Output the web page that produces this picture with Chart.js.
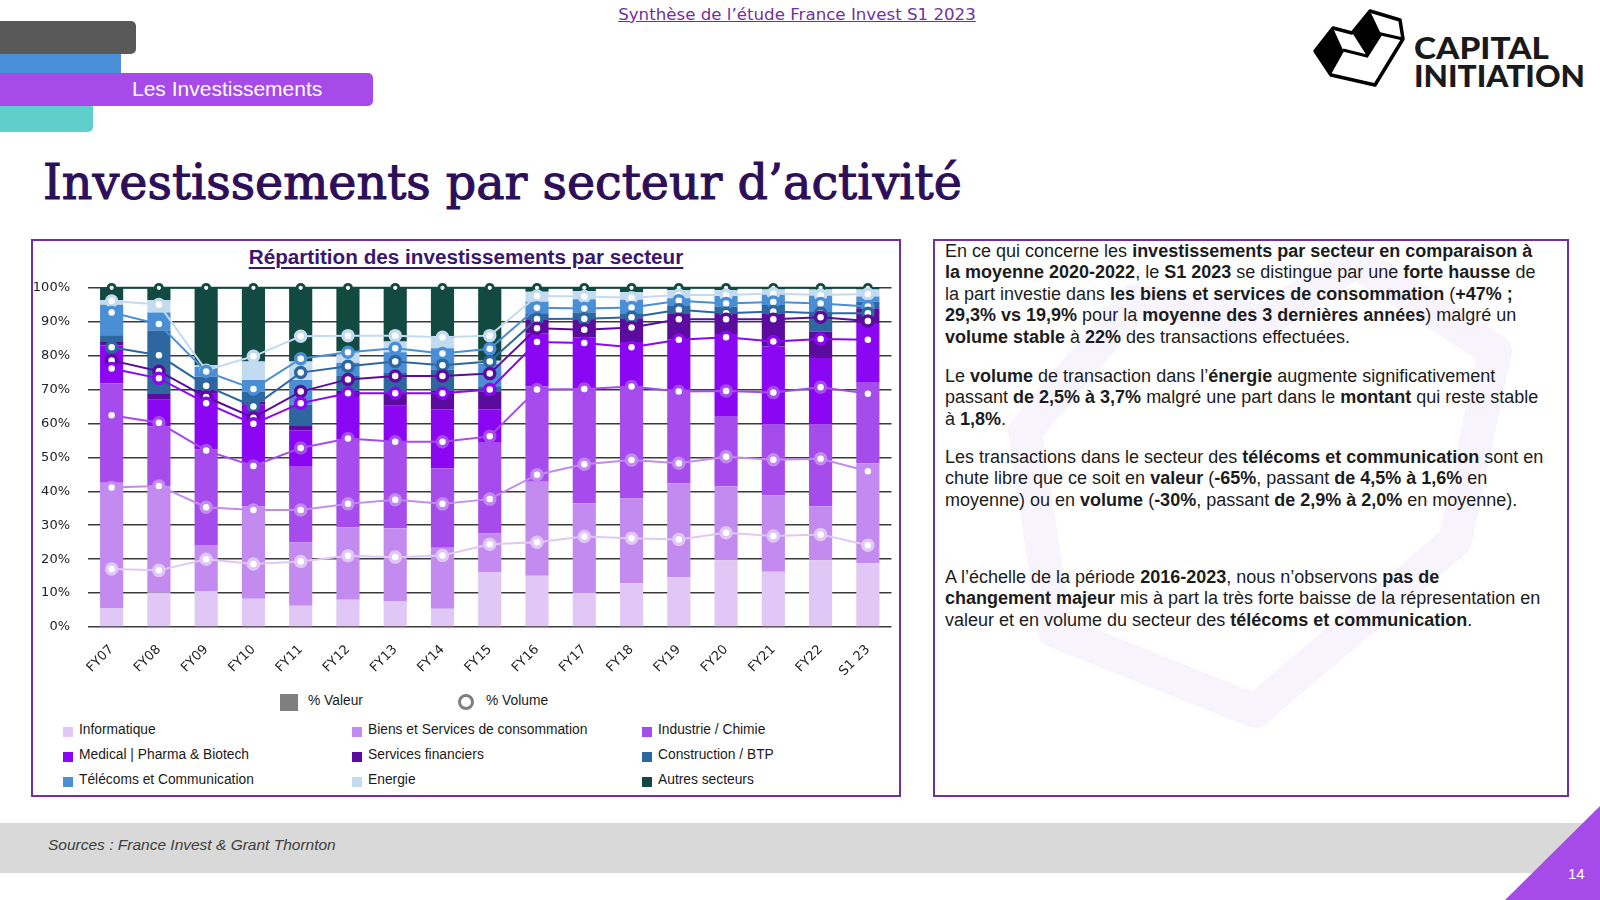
<!DOCTYPE html>
<html lang="fr">
<head>
<meta charset="utf-8">
<title>Investissements par secteur d’activité</title>
<script src="https://cdn.jsdelivr.net/npm/chart.js@4.4.0/dist/chart.umd.min.js"></script>
<style>
  html, body { margin: 0; padding: 0; background: #fff; }
  #slide { position: relative; width: 1600px; height: 900px; overflow: hidden;
           font-family: "Liberation Sans", Arial, sans-serif; color: #1a1a1a; }
  .abs { position: absolute; }
  .onglet { position: absolute; left: 0; }
  .boite { position: absolute; border: 2.5px solid #7030a0; box-sizing: border-box; }
  .leg { position: absolute; font-size: 13.8px; white-space: nowrap; line-height: 16px; }
  .leg i { position: absolute; width: 10px; height: 10px; left: -16px; top: 5px; }
  .txt { position: absolute; left: 945px; font-size: 18px; line-height: 21.4px; white-space: nowrap; color: #1c1c1c; }
  .txt b { font-weight: bold; }
</style>
</head>
<body>
<div id="slide">

  <!-- en-tete -->
  <div id="entete" class="abs" style="left:797px; top:5px; transform:translateX(-50%); font-family:'DejaVu Sans'; font-size:16px; color:#7030a0; text-decoration:underline; white-space:nowrap;">Synthèse de l’étude France Invest S1 2023</div>

  <div class="onglet" style="top:21px; width:136px; height:33px; background:#595959; border-radius:0 5px 5px 0;"></div>
  <div class="onglet" style="top:54px; width:121px; height:19px; background:#4a90d9;"></div>
  <div class="onglet" style="top:106px; width:93px; height:26px; background:#5ecfca; border-radius:0 0 5px 0;"></div>
  <div class="onglet" style="top:73px; width:373px; height:33px; background:#a64bea; border-radius:0 5px 5px 0;">
    <span class="abs" style="left:132px; top:4px; color:#fff; font-size:21px;">Les Investissements</span>
  </div>

  <!-- logo -->
  <svg class="abs" style="left:1300px; top:0px;" width="120" height="95" viewBox="1300 0 120 95">
    <polygon points="1315,51 1333,28 1352,33 1370,11 1400,20 1403,39 1375,85 1331,75" fill="#fff" stroke="#000" stroke-width="3.5" stroke-linejoin="round"/>
    <polygon points="1315,51 1333,28 1343,50 1330,73" fill="#000"/>
    <polygon points="1353,34 1370,11 1381,34 1367,56" fill="#000"/>
    <polyline points="1343,50 1367,56 1381,34 1403,39" fill="none" stroke="#000" stroke-width="3"/>
    <polyline points="1330,73 1343,50" fill="none" stroke="#000" stroke-width="3"/>
  </svg>
  <div id="logo1" class="abs" style="left:1414px; top:30px; font-family:Lato; font-weight:900; font-size:30px; line-height:34px; white-space:nowrap; transform-origin:left center;">CAPITAL</div>
  <div id="logo2" class="abs" style="left:1414px; top:58px; font-family:Lato; font-weight:900; font-size:30px; line-height:34px; white-space:nowrap; transform-origin:left center;">INITIATION</div>

  <!-- titre -->
  <div id="titre" class="abs" style="left:43px; top:150px; font-family:'DejaVu Serif'; font-size:48px; line-height:66px; color:#2d0f59; -webkit-text-stroke:1.1px #2d0f59; white-space:nowrap;">Investissements par secteur d’activité</div>

  <!-- boite du graphique -->
  <div class="boite" style="left:31px; top:239px; width:870px; height:558px;"></div>
  <div id="titreGraphique" class="abs" style="left:466px; top:245px; transform:translateX(-50%); font-size:20.7px; font-weight:bold; color:#3b1670; text-decoration:underline; text-decoration-thickness:1.5px; text-underline-offset:3px; white-space:nowrap;">Répartition des investissements par secteur</div>

  <div class="abs" style="left:31px; top:262px; width:869px; height:420px;">
    <canvas id="graphique" width="869" height="420"></canvas>
  </div>

  <!-- legende -->
  <div class="abs" style="left:280px; top:694px; width:18px; height:17px; background:#7f7f7f;"></div>
  <div class="leg" style="left:308px; top:693px;">% Valeur</div>
  <div class="abs" style="left:458px; top:694px; width:10px; height:10px; border:3.5px solid #7f7f7f; border-radius:50%;"></div>
  <div class="leg" style="left:486px; top:693px;">% Volume</div>
  <div id="legendeSecteurs"></div>

  <!-- boite de texte -->
  <div class="boite" style="left:933px; top:239px; width:636px; height:558px;"></div>
  <svg class="abs" style="left:935px; top:241px;" width="632" height="554">
    <polygon points="90,190 200,60 330,80 420,20 560,110 520,300 320,470 120,390" fill="none" stroke="#f8f4fd" stroke-width="34" stroke-linejoin="round"/>
  </svg>

  <div class="txt" style="top:241px;">
    En ce qui concerne les <b>investissements par secteur en comparaison à</b><br>
    <b>la moyenne 2020-2022</b>, le <b>S1 2023</b> se distingue par une <b>forte hausse</b> de<br>
    la part investie dans <b>les biens et services de consommation</b> (<b>+47% ;</b><br>
    <b>29,3% vs 19,9%</b> pour la <b>moyenne des 3 dernières années</b>) malgré un<br>
    <b>volume stable</b> à <b>22%</b> des transactions effectuées.
  </div>
  <div class="txt" style="top:366px;">
    Le <b>volume</b> de transaction dans l’<b>énergie</b> augmente significativement<br>
    passant <b>de 2,5% à 3,7%</b> malgré une part dans le <b>montant</b> qui reste stable<br>
    à <b>1,8%</b>.
  </div>
  <div class="txt" style="top:447px;">
    Les transactions dans le secteur des <b>télécoms et communication</b> sont en<br>
    chute libre que ce soit en <b>valeur</b> (<b>-65%</b>, passant <b>de 4,5% à 1,6%</b> en<br>
    moyenne) ou en <b>volume</b> (<b>-30%</b>, passant <b>de 2,9% à 2,0%</b> en moyenne).
  </div>
  <div class="txt" style="top:567px;">
    A l’échelle de la période <b>2016-2023</b>, nous n’observons <b>pas de</b><br>
    <b>changement majeur</b> mis à part la très forte baisse de la répresentation en<br>
    valeur et en volume du secteur des <b>télécoms et communication</b>.
  </div>

  <!-- pied de page -->
  <div class="abs" style="left:0; top:823px; width:1600px; height:50px; background:#d9d9d9;"></div>
  <div class="abs" style="left:48px; top:836px; font-size:15.5px; font-style:italic; color:#404040;">Sources : France Invest &amp; Grant Thornton</div>
  <svg class="abs" style="left:1500px; top:800px;" width="100" height="100">
    <polygon points="5,100 100,6 100,100" fill="#a64bea"/>
  </svg>
  <div class="abs" style="left:1568px; top:865px; font-size:15px; color:#fff;">14</div>
</div>

<script>
// Années
var annees = ["FY07", "FY08", "FY09", "FY10", "FY11", "FY12", "FY13", "FY14", "FY15",
              "FY16", "FY17", "FY18", "FY19", "FY20", "FY21", "FY22", "S1 23"];

var secteurs = ["Informatique", "Biens et Services de consommation", "Industrie / Chimie",
                "Medical | Pharma & Biotech", "Services financiers", "Construction / BTP",
                "Télécoms et Communication", "Energie", "Autres secteurs"];

var couleurs = ["#e0c7f5", "#c38af0", "#a64cec", "#8b06f2", "#5b0c9e",
                "#2e679f", "#4a8fd6", "#c3dbf0", "#124a42"];

// % Valeur (barres empilées)
var valeurInformatique = [5.6, 10.2, 10.5, 8.3, 6.3, 8.0, 7.5, 5.4, 16.2, 15.1, 10.0, 12.9, 14.7, 19.7, 16.3, 19.7, 18.8];
var valeurBiens        = [36.9, 31.3, 13.7, 27.2, 18.6, 21.4, 21.6, 18.0, 11.4, 27.7, 26.5, 25.0, 27.7, 21.8, 22.5, 15.9, 29.5];
var valeurIndustrie    = [29.3, 17.7, 28.2, 12.7, 22.6, 25.9, 25.7, 23.4, 26.7, 28.2, 33.9, 33.0, 27.6, 20.7, 21.0, 24.2, 23.7];
var valeurMedical      = [11.2, 7.8, 16.6, 17.3, 10.5, 12.8, 10.4, 17.4, 9.9, 15.6, 15.0, 13.1, 14.7, 24.2, 22.9, 19.5, 17.6];
var valeurFinance      = [1.0, 1.9, 0.9, 1.0, 1.5, 1.5, 3.9, 5.4, 5.3, 3.9, 5.9, 7.0, 7.6, 6.3, 9.6, 7.8, 4.4];
var valeurConstruction = [2.0, 18.5, 3.9, 2.9, 6.0, 4.4, 5.8, 6.3, 1.5, 2.0, 1.4, 1.5, 2.3, 1.7, 2.6, 5.8, 1.9];
var valeurTelecoms     = [9.0, 5.3, 2.9, 3.4, 7.3, 3.9, 6.1, 6.3, 6.5, 3.4, 3.9, 4.0, 2.3, 3.2, 3.6, 5.0, 1.5];
var valeurEnergie      = [1.3, 3.6, 0.5, 5.5, 5.5, 3.4, 3.2, 3.0, 1.0, 2.9, 2.4, 2.2, 2.4, 1.7, 1.0, 1.6, 2.1];
var valeurAutres       = [3.7, 3.7, 22.8, 21.7, 21.7, 18.7, 15.8, 14.8, 21.5, 1.2, 1.0, 1.3, 0.7, 0.7, 0.5, 0.5, 0.5];

// % Volume (lignes empilées)
var volumeInformatique = [17.1, 16.7, 20.0, 18.6, 19.3, 21.0, 20.6, 21.1, 24.4, 25.0, 26.7, 26.2, 25.8, 27.8, 26.8, 27.3, 24.1];
var volumeBiens        = [24.0, 24.9, 15.3, 15.9, 15.2, 15.3, 16.9, 15.2, 13.3, 19.9, 21.3, 23.0, 22.5, 22.4, 22.5, 22.3, 21.8];
var volumeIndustrie    = [21.3, 18.6, 16.7, 13.0, 18.3, 19.3, 17.1, 18.3, 18.5, 25.1, 22.2, 21.7, 21.1, 19.4, 19.8, 21.1, 22.9];
var volumeMedical      = [13.8, 13.1, 14.0, 12.4, 13.2, 13.3, 14.3, 14.3, 13.8, 14.0, 13.5, 11.6, 15.3, 15.8, 15.1, 14.2, 15.9];
var volumeFinance      = [2.4, 2.1, 1.8, 1.8, 3.4, 4.1, 5.1, 5.1, 4.7, 4.1, 3.9, 5.8, 6.0, 5.3, 6.5, 6.4, 5.5];
var volumeConstruction = [3.9, 4.7, 3.3, 3.3, 5.6, 3.9, 4.3, 3.2, 3.6, 2.7, 3.3, 3.0, 2.8, 1.8, 2.3, 1.2, 2.3];
var volumeTelecoms     = [10.2, 9.2, 4.2, 5.2, 4.1, 4.1, 3.9, 3.4, 3.7, 3.3, 3.0, 2.9, 2.7, 2.9, 2.8, 2.9, 2.0];
var volumeEnergie      = [3.4, 5.8, 0.4, 9.6, 6.6, 4.9, 3.7, 4.8, 3.9, 3.5, 3.5, 2.9, 1.7, 2.5, 2.5, 2.5, 3.7];
var volumeAutres       = [3.9, 4.9, 24.3, 20.2, 14.3, 14.1, 14.1, 14.6, 14.1, 2.4, 2.6, 2.9, 2.1, 2.1, 1.7, 2.1, 1.8];

var ticksY = [0, 10, 20, 30, 40, 50, 60, 70, 80, 90, 100];

var valeurs = [valeurInformatique, valeurBiens, valeurIndustrie, valeurMedical, valeurFinance,
               valeurConstruction, valeurTelecoms, valeurEnergie, valeurAutres];
var volumes = [volumeInformatique, volumeBiens, volumeIndustrie, volumeMedical, volumeFinance,
               volumeConstruction, volumeTelecoms, volumeEnergie, volumeAutres];

// Barres : % valeur
var datasets = [];
secteurs.forEach(function (nom, i) {
    datasets.push({
        type: "bar",
        label: nom,
        data: valeurs[i],
        backgroundColor: couleurs[i],
        borderWidth: 0,
        stack: "valeur",
        order: 2,
        barPercentage: 0.49,
        categoryPercentage: 1
    });
});

// Lignes : % volume (cumulées par l'empilement)
secteurs.forEach(function (nom, i) {
    var autres = i === secteurs.length - 1;
    datasets.push({
        type: "line",
        label: nom + " (volume)",
        data: volumes[i],
        borderColor: couleurs[i],
        borderWidth: 2,
        pointBackgroundColor: "#ffffff",
        pointBorderColor: couleurs[i],
        pointRadius: autres ? 3.5 : 5,
        pointBorderWidth: autres ? 2.8 : 3.5,
        tension: 0,
        fill: false,
        stack: "volume",
        order: 1,
        clip: false
    });
});

var ctx = document.getElementById("graphique").getContext("2d");
var monGraphique = new Chart(ctx, {
    data: { labels: annees, datasets: datasets },
    options: {
        responsive: false,
        animation: false,
        layout: { padding: { top: 23, right: 2, left: 0, bottom: 0 } },
        plugins: { legend: { display: false }, tooltip: { enabled: false }, title: { display: false } },
        scales: {
            x: {
                stacked: true,
                grid: { display: false },
                border: { display: false },
                ticks: {
                    minRotation: 45,
                    maxRotation: 45,
                    color: "#222",
                    padding: 7,
                    font: { family: "DejaVu Sans", size: 13 }
                },
                afterFit: function (s) { s.height = 55; }
            },
            y: {
                stacked: true,
                min: 0,
                max: 100,
                afterBuildTicks: function (s) {
                    s.ticks = ticksY.map(function (v) { return { value: v }; });
                },
                ticks: {
                    color: "#222",
                    padding: 18,
                    font: { family: "DejaVu Sans", size: 13 },
                    callback: function (value) { return value + "%"; }
                },
                grid: { color: "#3a3a3a", lineWidth: 1.6, drawTicks: false },
                border: { display: false },
                afterFit: function (s) { s.width = 57; }
            }
        }
    }
});

// Légende des secteurs, trois colonnes
var colonnesX = [79, 368, 658];
var lignesY = [722, 747, 772];
var zone = document.getElementById("legendeSecteurs");
secteurs.forEach(function (nom, i) {
    var d = document.createElement("div");
    d.className = "leg";
    d.style.left = colonnesX[i % 3] + "px";
    d.style.top = lignesY[Math.floor(i / 3)] + "px";
    d.innerHTML = '<i style="background:' + couleurs[i] + '"></i>';
    d.appendChild(document.createTextNode(nom));
    zone.appendChild(d);
});

// Ajuste la largeur de quelques textes
function ajusterTaille(id, largeur) {
    var el = document.getElementById(id);
    var fs = parseFloat(el.style.fontSize);
    var w = el.getBoundingClientRect().width;
    el.style.fontSize = (fs * largeur / w) + "px";
}
function ajusterEchelle(id, largeur) {
    var el = document.getElementById(id);
    var w = el.getBoundingClientRect().width;
    el.style.transform = "scaleX(" + (largeur / w) + ")";
}
ajusterTaille("titre", 919);
ajusterTaille("entete", 358);
ajusterEchelle("logo1", 135);
ajusterEchelle("logo2", 171);
</script>
</body>
</html>
